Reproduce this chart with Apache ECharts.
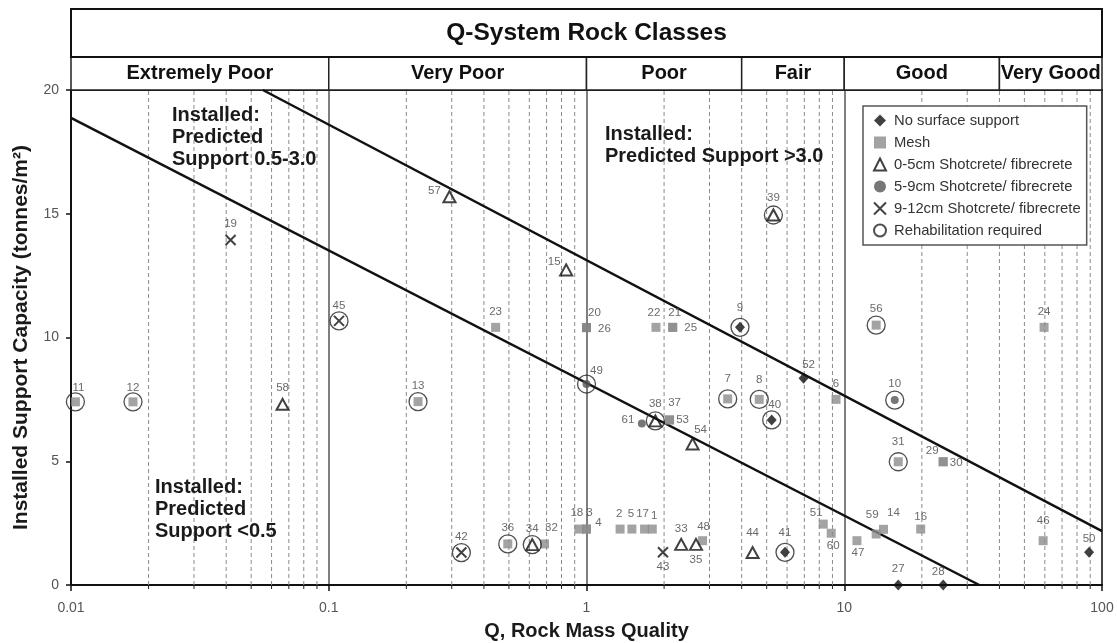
<!DOCTYPE html>
<html>
<head>
<meta charset="utf-8">
<title>Q-System Rock Classes</title>
<script src="https://cdn.jsdelivr.net/npm/echarts/dist/echarts.min.js"></script>
<style>
  html, body { margin: 0; padding: 0; background: #fff; }
  #chart { width: 1117px; height: 643px; }
</style>
</head>
<body>
<div id="chart"></div>
<script>
// ---------- data ----------
// Q-system rock classes: [name, lower Q, upper Q]
const rockClasses = [
  ['Extremely Poor', 0.01, 0.1],
  ['Very Poor', 0.1, 1],
  ['Poor', 1, 4],
  ['Fair', 4, 10],
  ['Good', 10, 40],
  ['Very Good', 40, 100]
];
const xTickLabels = ['0.01', '0.1', '1', '10', '100'];
const yTicks = [0, 5, 10, 15, 20];

// Each point: [site id, Q, installed support capacity (t/m²)]
const noSurfaceSupport = [
  [9, 3.94, 10.41], [40, 5.23, 6.67], [52, 6.95, 8.35], [41, 5.89, 1.32],
  [27, 16.2, 0], [28, 24.2, 0], [50, 89.1, 1.32]
];
const mesh = [
  [11, 0.0104, 7.4], [12, 0.0174, 7.4], [13, 0.222, 7.41], [23, 0.444, 10.41],
  [20, 1.0, 10.4], [26, 1.0, 10.4], [22, 1.86, 10.41], [21, 2.16, 10.41], [25, 2.16, 10.41],
  [37, 2.10, 6.67], [53, 2.10, 6.67], [7, 3.53, 7.52], [8, 4.68, 7.5], [6, 9.29, 7.5],
  [56, 13.3, 10.5], [24, 59.6, 10.41], [31, 16.2, 4.98], [29, 24.2, 4.98], [30, 24.2, 4.98],
  [36, 0.495, 1.66], [32, 0.687, 1.66], [18, 0.934, 2.26], [3, 1.0, 2.26], [4, 1.0, 2.26],
  [2, 1.35, 2.26], [5, 1.50, 2.26], [17, 1.68, 2.26], [1, 1.80, 2.26], [48, 2.82, 1.79],
  [51, 8.29, 2.46], [60, 8.90, 2.09], [47, 11.2, 1.79], [59, 13.3, 2.06], [14, 14.2, 2.25],
  [16, 19.8, 2.26], [46, 59.1, 1.79]
];
const shotcrete0to5 = [
  [58, 0.0662, 7.3], [57, 0.294, 15.69], [15, 0.834, 12.73], [39, 5.31, 14.95],
  [38, 1.85, 6.63], [54, 2.58, 5.7], [34, 0.616, 1.63], [33, 2.33, 1.64],
  [35, 2.66, 1.64], [44, 4.41, 1.31]
];
const shotcrete5to9 = [
  [61, 1.64, 6.53], [10, 15.7, 7.47], [49, 1.0, 8.12]
];
const shotcrete9to12 = [
  [19, 0.0416, 13.94], [45, 0.1096, 10.67], [42, 0.327, 1.31], [43, 1.98, 1.32]
];
// Sites where rehabilitation was required (ringed)
const rehabilitationIds = [11, 12, 45, 13, 49, 9, 39, 38, 7, 8, 40, 56, 10, 31, 42, 36, 34, 41];

// Installed : predicted support ratio boundaries
const ratio05Line = [[0.01, 18.87], [33.4, 0]];
const ratio30Line = [[0.0555, 20], [100, 2.18]];

// ---------- styling helpers ----------
const FONT = '"Liberation Sans", Arial, Helvetica, sans-serif';
const darkerMeshIds = [20];
// label offsets (px) from the marker centre; default sits above
const labelOffsets = {
  11: [3, -14], 12: [0, -14], 57: [-15, -6], 15: [-12, -8], 20: [8, -15], 26: [18, 1],
  22: [-2, -15], 21: [2, -15], 25: [18, 0], 9: [0, -20], 49: [10, -13], 61: [-14, -4],
  37: [5, -17], 53: [13, 0], 38: [0, -17], 54: [8, -14], 7: [0, -20], 8: [0, -20],
  40: [3, -15], 52: [5, -14], 31: [0, -20], 29: [-11, -11], 30: [13, 1], 32: [7, -16],
  18: [-2, -16], 3: [3, -16], 4: [12, -6], 2: [-1, -15], 5: [-1, -15], 17: [-2, -15],
  1: [2, -13], 43: [0, 14], 35: [0, 15], 51: [-7, -11], 60: [2, 13], 47: [1, 12],
  59: [-4, -19], 14: [10, -16], 48: [1, -14], 44: [0, -20], 41: [0, -20], 50: [0, -14],
  28: [-5, -13], 46: [0, -20], 16: [0, -12], 39: [0, -17], 45: [0, -15]
};

const allPoints = [].concat(noSurfaceSupport, mesh, shotcrete0to5, shotcrete5to9, shotcrete9to12);
const byId = {};
allPoints.forEach(p => { byId[p[0]] = p; });

const toXY = list => list.map(p => [p[1], p[2]]);

// minor log gridlines at 2..9 of every decade
const minorGridQ = [];
[0.01, 0.1, 1, 10].forEach(d => {
  for (let m = 2; m <= 9; m++) minorGridQ.push(+(d * m).toPrecision(3));
});

const chart = echarts.init(document.getElementById('chart'), null, { renderer: 'canvas' });

const gridLeft = 71, gridRight = 15;

const option = {
  animation: false,
  backgroundColor: '#fff',
  textStyle: { fontFamily: FONT },
  grid: [
    { left: gridLeft, right: gridRight, top: 90, bottom: 58, show: true, outerBoundsMode: 'none',
      containLabel: false, borderColor: '#111', borderWidth: 2, backgroundColor: '#fff' },
    { left: gridLeft, right: gridRight, top: 57, height: 33, outerBoundsMode: 'none' },
    { left: gridLeft, right: gridRight, top: 9, height: 48, outerBoundsMode: 'none' }
  ],
  xAxis: [
    {
      gridIndex: 0, type: 'log', logBase: 10, min: 0.01, max: 100,
      name: 'Q, Rock Mass Quality', nameLocation: 'middle', nameGap: 36,
      nameTextStyle: { fontFamily: FONT, fontSize: 20, fontWeight: 'bold', color: '#1a1a1a' },
      axisLine: { show: true, onZero: false, lineStyle: { color: '#111', width: 2 } },
      axisTick: { show: true, length: 6, lineStyle: { color: '#111', width: 1.5 } },
      axisLabel: {
        fontFamily: FONT, fontSize: 14, color: '#555', margin: 16,
        formatter: v => xTickLabels[Math.round(Math.log10(v)) + 2]
      },
      splitLine: { show: true, lineStyle: { color: '#555', width: 1.5 } },
      minorTick: { show: false }
    },
    { gridIndex: 1, type: 'log', logBase: 10, min: 0.01, max: 100, show: false },
    { gridIndex: 2, type: 'log', logBase: 10, min: 0.01, max: 100, show: false }
  ],
  yAxis: [
    {
      gridIndex: 0, type: 'value', min: yTicks[0], max: yTicks[yTicks.length - 1], interval: 5,
      name: 'Installed Support Capacity (tonnes/m²)', nameLocation: 'middle', nameGap: 39,
      nameRotate: 90,
      nameTextStyle: { fontFamily: FONT, fontSize: 21, fontWeight: 'bold', color: '#1a1a1a' },
      axisLine: { show: true, lineStyle: { color: '#111', width: 2 } },
      axisTick: { show: true, length: 5, lineStyle: { color: '#111', width: 1.5 } },
      axisLabel: { fontFamily: FONT, fontSize: 14, color: '#555', margin: 12 },
      splitLine: { show: false }
    },
    { gridIndex: 1, type: 'value', min: 0, max: 1, show: false },
    { gridIndex: 2, type: 'value', min: 0, max: 1, show: false }
  ],
  legend: {
    orient: 'vertical', left: 863, top: 106, selectedMode: false,
    padding: [7, 6, 7, 10], itemGap: 7, itemWidth: 12, itemHeight: 12,
    borderColor: '#555', borderWidth: 1.5, backgroundColor: '#fff',
    textStyle: { fontFamily: FONT, fontSize: 14.8, color: '#333', padding: [0, 0, 0, 3] },
    data: ['No surface support', 'Mesh', '0-5cm Shotcrete/ fibrecrete',
           '5-9cm Shotcrete/ fibrecrete', '9-12cm Shotcrete/ fibrecrete', 'Rehabilitation required']
  },
  graphic: [
    { type: 'text', left: 172, top: 104, z: 20,
      style: { text: 'Installed:\nPredicted\nSupport 0.5-3.0', fill: '#1a1a1a',
               font: 'bold 20px ' + FONT, lineHeight: 22 } },
    { type: 'text', left: 605, top: 123, z: 20,
      style: { text: 'Installed:\nPredicted Support >3.0', fill: '#1a1a1a',
               font: 'bold 20px ' + FONT, lineHeight: 22 } },
    { type: 'text', left: 155, top: 476, z: 20,
      style: { text: 'Installed:\nPredicted\nSupport <0.5', fill: '#1a1a1a',
               font: 'bold 20px ' + FONT, lineHeight: 22 } }
  ],
  series: [
    // dashed minor gridlines with small ticks under the axis
    {
      type: 'custom', xAxisIndex: 0, yAxisIndex: 0, silent: true, z: 1,
      data: minorGridQ.map(q => [q, 0]),
      encode: { x: 0, y: 1 },
      renderItem(params, api) {
        const q = api.value(0);
        const bot = api.coord([q, 0]);
        const top = api.coord([q, 20]);
        return {
          type: 'group',
          children: [
            { type: 'line', shape: { x1: bot[0], y1: bot[1], x2: top[0], y2: top[1] },
              style: { stroke: '#8a8a8a', lineWidth: 1, lineDash: [4, 3] } },
            { type: 'line', shape: { x1: bot[0], y1: bot[1], x2: bot[0], y2: bot[1] + 4 },
              style: { stroke: '#222', lineWidth: 1 } }
          ]
        };
      }
    },
    {
      name: 'ratio 0.5', type: 'line', xAxisIndex: 0, yAxisIndex: 0, data: ratio05Line,
      symbol: 'none', silent: true, z: 3, lineStyle: { color: '#111', width: 2.5 }
    },
    {
      name: 'ratio 3.0', type: 'line', xAxisIndex: 0, yAxisIndex: 0, data: ratio30Line,
      symbol: 'none', silent: true, z: 3, lineStyle: { color: '#111', width: 2.5 }
    },
    {
      name: 'Mesh', type: 'scatter', xAxisIndex: 0, yAxisIndex: 0, z: 4,
      symbol: 'rect', symbolSize: 9, itemStyle: { color: '#8c8c8c' },
      data: mesh.map(p => darkerMeshIds.includes(p[0])
        ? { value: [p[1], p[2]], itemStyle: { color: '#5a5a5a' } }
        : [p[1], p[2]])
    },
    {
      name: 'No surface support', type: 'scatter', xAxisIndex: 0, yAxisIndex: 0, z: 5,
      symbol: 'diamond', symbolSize: [10, 11], itemStyle: { color: '#111' },
      data: toXY(noSurfaceSupport)
    },
    {
      name: '0-5cm Shotcrete/ fibrecrete', type: 'scatter', xAxisIndex: 0, yAxisIndex: 0, z: 5,
      symbol: 'triangle', symbolSize: [12, 11],
      itemStyle: { color: 'rgba(255,255,255,0)', borderColor: '#111', borderWidth: 2 },
      data: toXY(shotcrete0to5)
    },
    {
      name: '5-9cm Shotcrete/ fibrecrete', type: 'scatter', xAxisIndex: 0, yAxisIndex: 0, z: 5,
      symbol: 'circle', symbolSize: 8, itemStyle: { color: '#555' },
      data: toXY(shotcrete5to9)
    },
    {
      name: '9-12cm Shotcrete/ fibrecrete', type: 'scatter', xAxisIndex: 0, yAxisIndex: 0, z: 5,
      symbol: 'path://M0,0L10,10M10,0L0,10', symbolSize: 10,
      itemStyle: { color: 'rgba(0,0,0,0)', borderColor: '#111', borderWidth: 2 },
      data: toXY(shotcrete9to12)
    },
    {
      name: 'Rehabilitation required', type: 'scatter', xAxisIndex: 0, yAxisIndex: 0, z: 6,
      symbol: 'circle', symbolSize: 18,
      itemStyle: { color: 'rgba(255,255,255,0)', borderColor: '#222', borderWidth: 1.3 },
      data: rehabilitationIds.map(id => [byId[id][1], byId[id][2]])
    },
    // site numbers
    {
      name: 'site ids', type: 'scatter', xAxisIndex: 0, yAxisIndex: 0, z: 7, silent: true,
      symbol: 'circle', symbolSize: 1, itemStyle: { color: 'rgba(0,0,0,0)' },
      label: { show: true, position: 'inside', formatter: '{b}',
               fontFamily: FONT, fontSize: 11.5, color: '#444' },
      data: allPoints.map(p => ({
        name: String(p[0]), value: [p[1], p[2]],
        label: { offset: labelOffsets[p[0]] || [0, -16] }
      }))
    },
    // rock class row
    {
      type: 'scatter', xAxisIndex: 1, yAxisIndex: 1, data: [], silent: true,
      markArea: {
        silent: true,
        itemStyle: { color: '#fff', borderColor: '#222', borderWidth: 1.5 },
        label: { show: true, position: 'inside', fontFamily: FONT, fontSize: 20,
                 fontWeight: 'bold', color: '#111' },
        data: rockClasses.map(c => [{ name: c[0], xAxis: c[1] }, { xAxis: c[2] }])
      }
    },
    // header title row
    {
      type: 'scatter', xAxisIndex: 2, yAxisIndex: 2, data: [], silent: true,
      markArea: {
        silent: true,
        itemStyle: { color: '#fff', borderColor: '#111', borderWidth: 2 },
        label: { show: true, position: 'inside', fontFamily: FONT, fontSize: 24.5,
                 fontWeight: 'bold', color: '#111' },
        data: [[{ name: 'Q-System Rock Classes', xAxis: 0.01 }, { xAxis: 100 }]]
      }
    }
  ]
};

chart.setOption(option);
</script>
</body>
</html>
